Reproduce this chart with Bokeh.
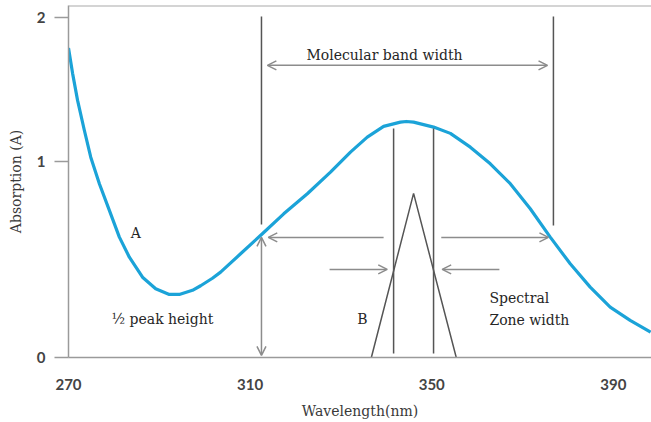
from bokeh.plotting import figure
from bokeh.models import Arrow, OpenHead, Span, Label, FixedTicker, Range1d
from bokeh.embed import file_html
from bokeh.resources import INLINE

# ---- data (schematic absorption spectrum) ----
wavelength = [270.0, 270.9, 272.0, 273.5, 274.9, 276.8, 279.0, 281.2, 283.4, 286.3,
              289.2, 292.2, 294.4, 297.3, 299.1, 301.7, 303.5, 307.9, 312.7, 317.4,
              322.6, 327.7, 332.1, 335.8, 339.4, 343.1, 344.4, 346.0, 350.4, 354.1,
              358.5, 362.9, 367.3, 371.7, 376.1, 380.5, 384.9, 389.3, 393.7, 398.2]
absorption = [1.820, 1.671, 1.512, 1.335, 1.178, 1.022, 0.865, 0.708, 0.590, 0.472,
              0.404, 0.371, 0.371, 0.395, 0.422, 0.466, 0.502, 0.610, 0.728, 0.845,
              0.963, 1.090, 1.208, 1.296, 1.359, 1.384, 1.388, 1.384, 1.355, 1.318,
              1.237, 1.139, 1.022, 0.875, 0.708, 0.551, 0.414, 0.296, 0.218, 0.149]
# narrow band B (triangle)
band_b_x = [336.7, 346.0, 355.4]
band_b_y = [0.0, 0.965, 0.0]

x_ticks = [270, 310, 350, 390]
y_tick_labels = ["0", "1", "2"]
y_tick_pos = [0.0, 1.153, 2.0]

GREY = "#8c8c8c"
DARK = "#555555"
TXT = "#262626"
BLUE = "#1ba3d8"
SERIF = "DejaVu Serif"

p = figure(width=651, height=422, output_backend="svg", toolbar_location=None,
           x_range=Range1d(270, 398.4), y_range=Range1d(0, 2.07),
           min_border_left=68, min_border_right=0, min_border_top=5, min_border_bottom=65)
p.outline_line_color = None
p.grid.visible = False
p.background_fill_color = "white"

# axes
p.xaxis.ticker = FixedTicker(ticks=x_ticks)
p.xaxis.major_tick_out = 0
p.xaxis.major_tick_in = 0
p.xaxis.minor_tick_line_color = None
p.xaxis.major_label_standoff = 21
p.xaxis.axis_label = "Wavelength(nm)"
p.xaxis.axis_label_standoff = 10

p.yaxis.ticker = FixedTicker(ticks=y_tick_pos)
p.yaxis.major_label_overrides = {v: s for v, s in zip(y_tick_pos, y_tick_labels)}
p.yaxis.major_tick_out = 14
p.yaxis.major_tick_in = 0
p.yaxis.minor_tick_line_color = None
p.yaxis.major_label_standoff = 9
p.yaxis.axis_label = "Absorption (A)"
p.yaxis.axis_label_standoff = 10

for ax in (p.xaxis, p.yaxis):
    ax.axis_line_color = "#9a9a9a"
    ax.axis_line_width = 1.5
    ax.major_tick_line_color = "#9a9a9a"
    ax.major_tick_line_width = 1.5
    ax.major_label_text_font = "Lato"
    ax.major_label_text_font_style = "bold"
    ax.major_label_text_font_size = "15px"
    ax.major_label_text_color = "#444444"
    ax.axis_label_text_font = SERIF
    ax.axis_label_text_font_style = "normal"
    ax.axis_label_text_font_size = "14px"
    ax.axis_label_text_color = "#3a3a3a"

# top frame line
p.add_layout(Span(location=2.07, dimension="width", line_color="#aaaaaa", line_width=2))

# main curve A
p.line(wavelength, absorption, line_color=BLUE, line_width=3.2, line_join="round")

# band B triangle
p.line(band_b_x, band_b_y, line_color=DARK, line_width=1.5)

# vertical guide lines for molecular band width
p.segment(x0=[312.5, 376.8], y0=[2.006, 2.006], x1=[312.5, 376.8], y1=[0.782, 0.776],
          line_color=DARK, line_width=1.5)
# vertical guide lines for spectral zone width
p.segment(x0=[341.6, 350.4], y0=[1.347, 1.347], x1=[341.6, 350.4], y1=[0.024, 0.024],
          line_color=DARK, line_width=1.5)

def arrow(x0, y0, x1, y1, both=False):
    head = OpenHead(size=9, line_color=GREY, line_width=1.5)
    kw = dict(end=head, x_start=x0, y_start=y0, x_end=x1, y_end=y1,
              line_color=GREY, line_width=1.5)
    if both:
        kw["start"] = OpenHead(size=9, line_color=GREY, line_width=1.5)
    p.add_layout(Arrow(**kw))

# molecular band width double arrow
arrow(313.8, 1.718, 375.5, 1.718, both=True)
# half-height arrows
arrow(339.4, 0.706, 314.0, 0.706)
arrow(352.1, 0.706, 375.7, 0.706)
# half peak height vertical double arrow
arrow(312.5, 0.706, 312.5, 0.012, both=True)
# spectral zone arrows
arrow(327.5, 0.518, 340.2, 0.518)
arrow(364.9, 0.518, 352.3, 0.518)

def label(x, y, text, align="center"):
    p.add_layout(Label(x=x, y=y, text=text, text_align=align, text_baseline="middle",
                       text_font=SERIF, text_font_size="14px", text_color=TXT))

label(339.6, 1.776, "Molecular band width")
label(284.8, 0.735, "A")
label(290.7, 0.229, "½ peak height")
label(334.7, 0.229, "B")
label(362.7, 0.347, "Spectral", align="left")
label(362.7, 0.218, "Zone width", align="left")

open("out.html", "w").write(file_html(p, INLINE))
